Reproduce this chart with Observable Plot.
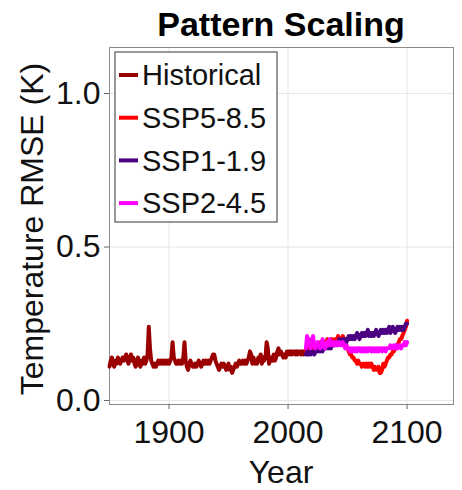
<!DOCTYPE html>
<html><head><meta charset="utf-8">
<script src="https://cdn.jsdelivr.net/npm/d3@7"></script>
<script src="https://cdn.jsdelivr.net/npm/@observablehq/plot@0.6"></script>
<style>body{margin:0;background:#fff}</style>
</head><body><div id="chart"></div>
<script>
const titleText = "Pattern Scaling";
const xLabel = "Year";
const yLabel = "Temperature RMSE (K)";
const histStart = 1850;
const historical = [
0.11,0.13,0.14,0.12,0.11,0.13,0.12,0.14,0.13,0.12,
0.13,0.14,0.13,0.14,0.15,0.13,0.12,0.14,0.15,0.13,
0.14,0.12,0.11,0.13,0.14,0.12,0.11,0.13,0.12,0.14,
0.12,0.13,0.15,0.24,0.17,0.13,0.12,0.11,0.12,0.11,
0.12,0.13,0.12,0.13,0.12,0.13,0.12,0.13,0.12,0.13,
0.12,0.13,0.14,0.19,0.14,0.13,0.12,0.12,0.13,0.12,
0.13,0.12,0.14,0.19,0.13,0.11,0.10,0.12,0.13,0.12,
0.11,0.11,0.12,0.11,0.12,0.13,0.12,0.11,0.12,0.13,
0.12,0.13,0.12,0.13,0.12,0.13,0.14,0.15,0.15,0.13,
0.12,0.11,0.10,0.11,0.12,0.11,0.12,0.11,0.10,0.11,
0.12,0.10,0.11,0.09,0.10,0.11,0.12,0.11,0.12,0.13,
0.12,0.12,0.13,0.12,0.13,0.12,0.13,0.14,0.16,0.15,
0.12,0.14,0.12,0.13,0.12,0.14,0.13,0.15,0.12,0.14,
0.13,0.14,0.19,0.17,0.12,0.13,0.14,0.13,0.15,0.13,
0.14,0.16,0.17,0.15,0.16,0.15,0.14,0.15,0.14,0.16,
0.16,0.15,0.16,0.15,0.16,0.16,0.15,0.16,0.15,0.16,
0.16,0.15,0.16,0.15,0.16];
const sspStart = 2015;
const ssp585 = [
0.16,0.17,0.16,0.18,0.17,0.16,0.18,0.17,0.18,0.17,
0.18,0.17,0.19,0.18,0.17,0.18,0.19,0.18,0.20,0.19,
0.18,0.19,0.20,0.19,0.18,0.20,0.19,0.21,0.20,0.19,
0.20,0.21,0.20,0.19,0.18,0.17,0.16,0.15,0.15,0.14,
0.14,0.13,0.13,0.12,0.13,0.12,0.12,0.11,0.12,0.12,
0.11,0.12,0.11,0.12,0.11,0.12,0.11,0.10,0.11,0.10,
0.10,0.11,0.09,0.09,0.10,0.12,0.11,0.12,0.13,0.14,
0.14,0.15,0.15,0.16,0.16,0.17,0.18,0.18,0.19,0.20,
0.20,0.21,0.22,0.23,0.24,0.26];
const ssp119 = [
0.15,0.16,0.15,0.16,0.15,0.16,0.16,0.15,0.16,0.17,
0.16,0.17,0.16,0.17,0.16,0.17,0.18,0.17,0.18,0.17,
0.18,0.17,0.18,0.19,0.18,0.19,0.18,0.19,0.20,0.19,
0.19,0.20,0.19,0.20,0.19,0.20,0.21,0.20,0.21,0.20,
0.21,0.20,0.21,0.22,0.21,0.20,0.21,0.22,0.21,0.22,
0.21,0.22,0.23,0.21,0.22,0.21,0.22,0.21,0.22,0.23,
0.22,0.21,0.22,0.23,0.22,0.23,0.22,0.23,0.22,0.23,
0.24,0.22,0.23,0.24,0.23,0.22,0.23,0.24,0.23,0.24,
0.23,0.24,0.23,0.24,0.25,0.25];
const ssp245 = [
0.17,0.21,0.18,0.20,0.17,0.18,0.21,0.18,0.17,0.18,
0.19,0.18,0.17,0.18,0.20,0.18,0.17,0.18,0.19,0.18,
0.20,0.18,0.19,0.18,0.19,0.18,0.19,0.18,0.19,0.18,
0.18,0.19,0.18,0.17,0.18,0.17,0.17,0.16,0.17,0.16,
0.17,0.16,0.17,0.16,0.17,0.17,0.16,0.17,0.16,0.17,
0.16,0.17,0.16,0.17,0.17,0.16,0.17,0.16,0.17,0.16,
0.17,0.16,0.17,0.17,0.16,0.17,0.17,0.16,0.17,0.17,
0.17,0.18,0.17,0.17,0.18,0.17,0.18,0.17,0.18,0.18,
0.17,0.18,0.18,0.19,0.18,0.19];
const seriesNames = ["Historical","SSP5-8.5","SSP1-1.9","SSP2-4.5"];
const seriesColors = ["#9b0000","#ff0000","#4b0082","#ff00ff"];
const xTicks = [1900, 2000, 2100];
const yTicks = [0.0, 0.5, 1.0];

function rows(name, start, vals) { return vals.map((v, i) => ({series: name, year: start + i, rmse: v})); }
const data = [
  ...rows(seriesNames[0], histStart, historical),
  ...rows(seriesNames[1], sspStart, ssp585),
  ...rows(seriesNames[2], sspStart, ssp119),
  ...rows(seriesNames[3], sspStart, ssp245)
];

const W = 462, H = 490, ML = 109, MR = 9, MT = 47, MB = 86;
const font = "'Liberation Sans', Arial, Helvetica, sans-serif";

const chart = Plot.plot({
  width: W, height: H,
  marginLeft: ML, marginRight: MR, marginTop: MT, marginBottom: MB,
  style: {fontFamily: font, background: "#fff", color: "#111"},
  x: {domain: [1850, 2139], ticks: xTicks, label: null},
  y: {domain: [-0.013, 1.15], ticks: yTicks, label: null},
  color: {domain: seriesNames, range: seriesColors},
  marks: [
    Plot.gridX(xTicks, {stroke: "#e6e6e6", strokeOpacity: 1}),
    Plot.gridY(yTicks, {stroke: "#e6e6e6", strokeOpacity: 1}),
    Plot.frame({stroke: "#8a8a8a"}),
    Plot.axisX(xTicks, {tickSize: 5, tickPadding: 11, fontSize: 32, stroke: "#666", label: null, tickFormat: d => String(d)}),
    Plot.axisY(yTicks, {tickSize: 5, tickPadding: 4, fontSize: 32, stroke: "#666", label: null, tickFormat: d3.format(".1f")}),
    Plot.lineY(data, {x: "year", y: "rmse", z: "series", stroke: "series", strokeWidth: 4, strokeLinejoin: "round"})
  ]
});
document.getElementById("chart").appendChild(chart);

const svg = d3.select(chart);
svg.append("text").attr("x", (ML + W - MR) / 2).attr("y", 36)
  .attr("text-anchor", "middle").attr("font-family", font).attr("font-weight", "bold")
  .attr("font-size", 34).attr("fill", "#000").text(titleText);
svg.append("text").attr("transform", "translate(43,229) rotate(-90)")
  .attr("text-anchor", "middle").attr("font-family", font)
  .attr("font-size", 32).attr("fill", "#111").text(yLabel);
svg.append("text").attr("x", (ML + W - MR) / 2).attr("y", 483)
  .attr("text-anchor", "middle").attr("font-family", font)
  .attr("font-size", 32).attr("fill", "#111").text(xLabel);

const lg = svg.append("g");
lg.append("rect").attr("x", 115).attr("y", 52).attr("width", 162).attr("height", 170)
  .attr("fill", "#fff").attr("stroke", "#555").attr("stroke-width", 1.2);
seriesNames.forEach((name, i) => {
  const cy = 75 + i * 42.7;
  lg.append("line").attr("x1", 119).attr("x2", 138).attr("y1", cy).attr("y2", cy)
    .attr("stroke", seriesColors[i]).attr("stroke-width", 4);
  lg.append("text").attr("x", 142).attr("y", cy).attr("dy", "0.35em")
    .attr("text-anchor", "start")
    .attr("font-family", font).attr("font-size", 29).attr("fill", "#111").text(name);
});
</script>
</body></html>
